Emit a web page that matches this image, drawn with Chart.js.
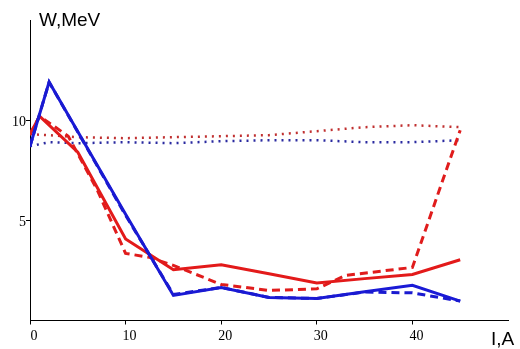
<!DOCTYPE html>
<html>
<head>
<meta charset="utf-8">
<script src="https://cdn.jsdelivr.net/npm/chart.js@4"></script>
<style>
    html, body { margin: 0; padding: 0; background: #fff; }
    #wrap { width: 520px; height: 349px; position: relative; }
</style>
</head>
<body>
<div id="wrap"><canvas id="energyChart"></canvas></div>
<script>
// current I (A) and energy W (MeV)
const blueSolidI = [0, 2, 10, 15, 20, 25, 30, 35, 40, 45];
const blueSolidW = [8.7, 11.9, 5.3, 1.25, 1.65, 1.15, 1.1, 1.43, 1.76, 0.97];
const blueDashI = [0, 2, 10, 15, 20, 25, 30, 35, 40, 45];
const blueDashW = [8.7, 11.9, 5.25, 1.3, 1.65, 1.15, 1.1, 1.42, 1.38, 0.97];
const redSolidI = [0, 1, 5, 10, 15, 20, 25, 30, 35, 40, 45];
const redSolidW = [9.3, 10.2, 8.4, 4.07, 2.53, 2.78, 2.33, 1.87, 2.09, 2.3, 3.03];
const redDashI = [0, 1, 4, 7, 10, 12.5, 15, 20, 25, 30, 33, 40, 45];
const redDashW = [9.3, 10.2, 9.2, 6.55, 3.35, 3.15, 2.75, 1.8, 1.5, 1.58, 2.25, 2.65, 9.5];
const dotI = [0, 2, 5, 10, 15, 20, 25, 30, 35, 40, 45];
const blueDotW = [8.7, 8.9, 8.85, 8.9, 8.85, 8.95, 9.0, 9.0, 8.9, 8.9, 9.0];
const redDotW = [9.3, 9.25, 9.15, 9.1, 9.15, 9.2, 9.25, 9.45, 9.65, 9.75, 9.65];

const xTicks = [0, 10, 20, 30, 40];
const yTicks = [5, 10];
const xTitle = 'I,A';
const yTitle = 'W,MeV';

function pairs(xs, ys) {
    return xs.map((x, i) => ({ x: x, y: ys[i] }));
}

function line(xs, ys, color, dash, width) {
    return {
        data: pairs(xs, ys),
        borderColor: color,
        borderWidth: width,
        borderDash: dash,
        pointRadius: 0,
        tension: 0,
        fill: false
    };
}

const axisTitles = {
    id: 'axisTitles',
    afterDraw(chart) {
        const ctx = chart.ctx;
        const area = chart.chartArea;
        ctx.save();
        ctx.fillStyle = '#000';
        ctx.font = '19px "Liberation Sans", Arial, sans-serif';
        ctx.textBaseline = 'alphabetic';
        ctx.fillText(yTitle, area.left + 9, area.top + 6);
        ctx.fillText(xTitle, area.right - 17, area.bottom + 24.5);
        ctx.restore();
    }
};

const tickFont = { family: '"Liberation Serif", "Times New Roman", serif', size: 14 };

new Chart(document.getElementById('energyChart'), {
    type: 'line',
    data: {
        datasets: [
            line(blueDashI, blueDashW, '#1a1ad0', [8, 5], 3),
            line(blueSolidI, blueSolidW, '#1a1ad6', [], 3),
            line(redDashI, redDashW, '#e01c1c', [8, 5], 3),
            line(redSolidI, redSolidW, '#e31a1a', [], 3),
            line(dotI, blueDotW, '#2a2aa0', [2, 5], 2.5),
            line(dotI, redDotW, '#c03030', [2, 5], 2.5)
        ]
    },
    options: {
        responsive: true,
        maintainAspectRatio: false,
        animation: false,
        layout: {
            padding: { left: 0, right: 12, top: 20, bottom: 0 }
        },
        scales: {
            x: {
                type: 'linear',
                min: 0,
                max: 50,
                afterBuildTicks: s => { s.ticks = xTicks.map(v => ({ value: v })); },
                afterFit: s => { s.height = 28.5; },
                grid: { drawOnChartArea: false, tickLength: 4, color: '#000' },
                border: { color: '#000', width: 1 },
                ticks: { color: '#000', font: tickFont, padding: 3, labelOffset: 4, maxRotation: 0 }
            },
            y: {
                type: 'linear',
                min: 0,
                max: 15,
                afterBuildTicks: s => { s.ticks = yTicks.map(v => ({ value: v })); },
                afterFit: s => { s.width = 30; },
                grid: { drawOnChartArea: false, tickLength: 4, color: '#000' },
                border: { color: '#000', width: 1 },
                ticks: { color: '#000', font: tickFont, padding: 0, labelOffset: 2 }
            }
        },
        plugins: {
            legend: { display: false },
            tooltip: { enabled: false }
        }
    },
    plugins: [axisTitles]
});
</script>
</body>
</html>
